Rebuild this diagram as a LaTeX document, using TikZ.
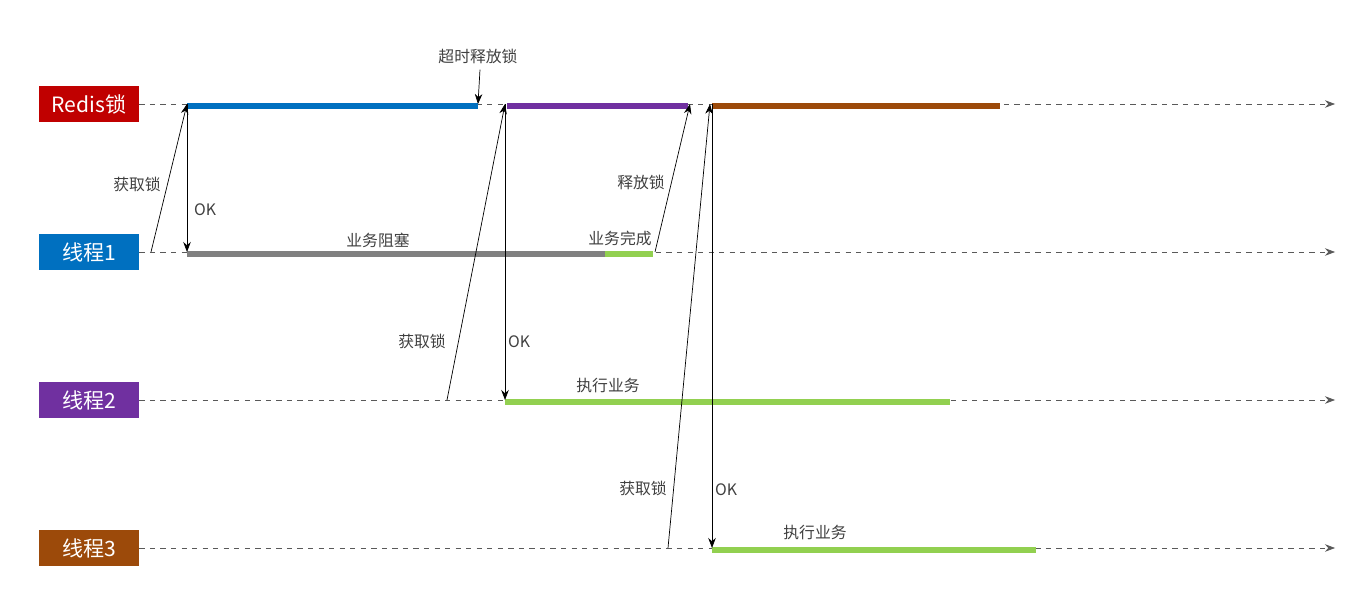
\documentclass[tikz,border=0pt]{standalone}
\usepackage{fontspec}
\setmainfont{Noto Sans CJK SC}
\usetikzlibrary{arrows.meta}
\definecolor{lockred}{HTML}{C00000}
\definecolor{tblue}{HTML}{0070C0}
\definecolor{tpurple}{HTML}{7030A0}
\definecolor{tbrown}{HTML}{9C4A0A}
\definecolor{bgreen}{HTML}{92D050}
\tikzset{
  lanebox/.style={minimum width=2cm, minimum height=0.72cm, inner sep=0pt, text=white, font=\large},
  lane/.style={dashed, gray!70!black, -{Stealth[length=2mm]}},
  bar/.style={line width=1.2mm},
  msg/.style={-{Stealth[length=2mm]}, thin},
  lbl/.style={font=\small, text=black!75}
}
\begin{document}
\begin{tikzpicture}[x=0.02cm, y=-0.02cm]
  \useasboundingbox (0,0) rectangle (1369,591);
  % lanes
  \node[lanebox, fill=lockred] (redis) at (89,104) {Redis锁};
  \node[lanebox, fill=tblue] (t1) at (89,252) {线程1};
  \node[lanebox, fill=tpurple] (t2) at (89,400) {线程2};
  \node[lanebox, fill=tbrown] (t3) at (89,548) {线程3};
  \foreach \n/\y in {redis/104, t1/252, t2/400, t3/548}
    \draw[lane] (\n.east) -- (1335,\y);
  % lock holders
  \draw[bar, tblue] (187,106) -- (478,106);
  \draw[bar, tpurple] (507,106) -- (688,106);
  \draw[bar, tbrown] (712,106) -- (1000,106);
  \draw[bar, gray] (187,254) -- (605,254);
  \draw[bar, bgreen] (605,254) -- (653,254);
  \draw[bar, bgreen] (505,402) -- (950,402);
  \draw[bar, bgreen] (712,550) -- (1036,550);
  % thread 1
  \draw[msg] (151,252) -- (187,104);
  \draw[msg] (187,104) -- (187,252);
  \node[lbl] (get1) at (137,184) {获取锁};
  \node[lbl] (ok1) at (205,210) {OK};
  \node[lbl] (block) at (378,240) {业务阻塞};
  \node[lbl] (done) at (620,238) {业务完成};
  \draw[msg] (655,252) -- (690,104);
  \node[lbl] (rel) at (641,182) {释放锁};
  % timeout
  \node[lbl] (timeout) at (478,56) {超时释放锁};
  \draw[msg] (timeout.south) ++(2,0) -- (478,104);
  % thread 2
  \draw[msg] (447,400) -- (505,104);
  \draw[msg] (505,104) -- (505,400);
  \node[lbl] (get2) at (422,341) {获取锁};
  \node[lbl] (ok2) at (519,342) {OK};
  \node[lbl] (run2) at (608,386) {执行业务};
  % thread 3
  \draw[msg] (668,548) -- (710,104);
  \draw[msg] (712,104) -- (712,548);
  \node[lbl] (get3) at (643,488) {获取锁};
  \node[lbl] (ok3) at (726,490) {OK};
  \node[lbl] (run3) at (815,533) {执行业务};
\end{tikzpicture}
\end{document}
